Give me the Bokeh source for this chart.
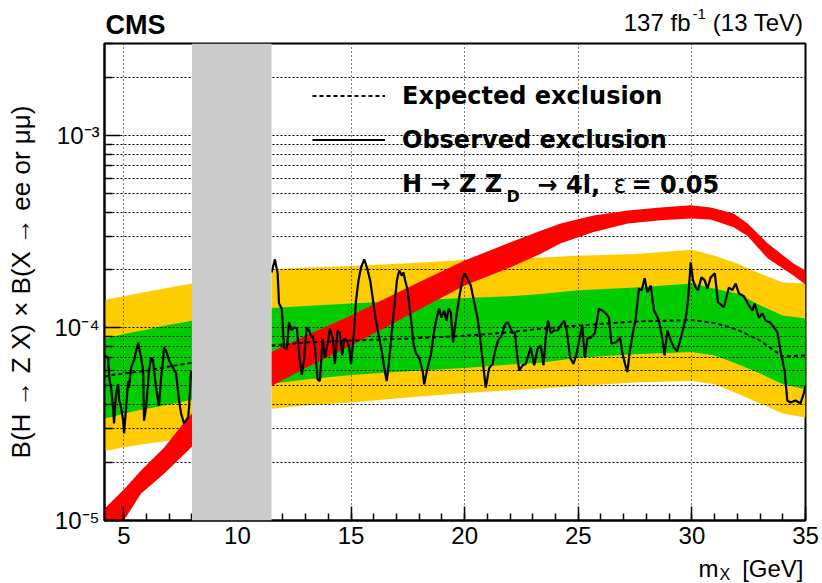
import numpy as np
from bokeh.plotting import figure
from bokeh.layouts import column
from bokeh.models import (Range1d, FixedTicker, Label, Legend, LegendItem,
                          BoxAnnotation, CustomJSTickFormatter)
from bokeh.core.properties import value
from bokeh.embed import file_html
from bokeh.resources import INLINE

FONT = "Liberation Sans"
LEG_FONT = "DejaVu Sans"

# ---------------- data ----------------
x_min, x_max = 4.15, 35.0
y_min, y_max = 1e-5, 3e-3
gap_lo, gap_hi = 8.0, 11.5          # excluded (Upsilon) region

x_major = [5, 10, 15, 20, 25, 30, 35]
x_minor = list(range(5, 36))
y_major = [1e-5, 1e-4, 1e-3]
y_minor = [k * 1e-5 for k in range(2, 10)] + [k * 1e-4 for k in range(2, 10)] + [2e-3, 3e-3]

# expected limit and bands, values in units of 1e-5
band_left_x = [4.15, 4.5, 5.0, 5.5, 6.0, 6.5, 7.0, 7.5, 8.0]
exp_left = [5.6, 5.7, 5.8, 5.9, 6.0, 6.15, 6.3, 6.45, 6.6]
g_lo_left = [3.4, 3.45, 3.6, 3.7, 3.8, 3.9, 4.0, 4.1, 4.25]
g_hi_left = [8.8, 9.0, 9.3, 9.55, 9.8, 10.1, 10.4, 10.65, 10.9]
y_lo_left = [2.3, 2.33, 2.4, 2.45, 2.5, 2.55, 2.6, 2.65, 2.7]
y_hi_left = [14.0, 14.2, 14.6, 15.0, 15.4, 15.8, 16.2, 16.6, 17.0]

band_right_x = [11.5, 13, 15, 17.5, 20, 22, 23.35, 25, 27.5, 30, 31, 32, 33, 34, 35]
exp_right = [8.1, 8.4, 8.6, 8.8, 9.1, 9.5, 9.9, 10.3, 10.8, 11.0, 10.6, 9.8, 8.6, 7.1, 7.2]
g_lo_right = [5.13, 5.4, 5.7, 5.95, 6.2, 6.45, 6.6, 7.0, 7.3, 7.5, 7.2, 6.5, 5.8, 5.1, 4.8]
g_hi_right = [12.7, 13.0, 13.4, 13.9, 14.3, 14.6, 15.0, 15.7, 16.2, 17.0, 16.0, 15.1, 13.1, 11.6, 11.2]
y_lo_right = [3.8, 3.95, 4.1, 4.35, 4.6, 4.75, 4.85, 5.0, 5.2, 5.3, 5.1, 4.57, 4.05, 3.6, 3.43]
y_hi_right = [20.2, 20.6, 21.0, 21.7, 22.5, 23.0, 23.2, 23.7, 24.2, 25.5, 23.7, 21.6, 19.2, 17.2, 17.0]

# theory band H -> Z Z_D -> 4l, eps = 0.05 (units of 1e-5)
th_left_x = [4.15, 5.0, 5.76, 6.77, 7.83, 8.0]
th_left_lo = [0.75, 1.0, 1.38, 1.75, 2.31, 2.42]
th_left_hi = [1.15, 1.45, 1.82, 2.39, 3.43, 3.6]
th_right_x = [11.5, 13, 15, 17.5, 20, 22, 23.35, 24.23, 25.68, 27.18, 28.63, 29.95,
              30.83, 31.84, 32.45, 33.33, 34.47, 35.0]
th_right_lo = [5.0, 6.2, 8.1, 11.6, 16.6, 20.6, 24.3, 27.5, 31.5, 34.9, 36.2, 37.0,
               36.6, 33.3, 30.0, 23.0, 18.7, 16.8]
th_right_hi = [7.5, 9.1, 11.6, 16.2, 22.4, 27.8, 32.0, 34.9, 38.4, 40.7, 42.2, 43.3,
               42.2, 39.3, 34.9, 27.5, 21.6, 19.9]

# observed limit (units of 1e-5)
obs_left_x = [4.15, 4.31, 4.36, 4.44, 4.53, 4.57, 4.66, 4.75, 4.80, 4.88, 4.97, 5.01, 5.10,
              5.19, 5.23, 5.32, 5.45, 5.63, 5.67, 5.76, 5.85, 5.89, 5.98, 6.11, 6.20, 6.29,
              6.33, 6.42, 6.51, 6.55, 6.64, 6.73, 6.77, 6.86, 6.99, 7.17, 7.30, 7.43, 7.52,
              7.65, 7.83, 7.87, 7.96]
obs_left_y = [7.2, 7.0, 5.5, 4.9, 3.86, 3.19, 4.57, 5.1, 4.2, 3.86, 3.3, 2.83, 3.86,
              5.3, 4.9, 6.2, 6.8, 8.4, 7.9, 7.0, 6.0, 3.3, 3.86, 6.0, 7.0, 6.8,
              6.0, 4.9, 4.2, 3.95, 5.5, 6.8, 7.9, 7.6, 6.8, 6.2, 5.8, 4.2, 3.6,
              3.19, 3.43, 3.86, 6.0]
obs_right_x = [11.5, 11.65, 11.77, 11.83, 11.95, 12.05, 12.18, 12.27, 12.39, 12.49, 12.62,
               12.71, 12.83, 12.93, 13.05, 13.15, 13.27, 13.32, 13.41, 13.53, 13.63, 13.75,
               13.85, 13.97, 14.07, 14.19, 14.29, 14.41, 14.51, 14.61, 14.70, 14.82, 14.92,
               15.00, 15.11, 15.22, 15.33, 15.44, 15.58, 15.70, 15.84, 15.95, 16.06, 16.20,
               16.35, 16.46, 16.57, 16.68, 16.80, 16.90, 17.02, 17.12, 17.23, 17.31, 17.38,
               17.49, 17.63, 17.75, 17.85, 18.00, 18.15, 18.22, 18.34, 18.51, 18.66, 18.76,
               18.88, 18.98, 19.10, 19.20, 19.29, 19.39, 19.49, 19.61, 19.76, 19.91, 20.01,
               20.13, 20.27, 20.42, 20.57, 20.67, 20.79, 20.93, 21.08, 21.23, 21.34, 21.47,
               21.62, 21.77, 21.89, 22.00, 22.11, 22.21, 22.30, 22.40, 22.55, 22.69, 22.91,
               23.06, 23.21, 23.35, 23.47, 23.57, 23.67, 23.79, 23.94, 24.09, 24.23, 24.38,
               24.49, 24.64, 24.79, 24.93, 25.08, 25.18, 25.29, 25.40, 25.55, 25.73, 25.91,
               26.06, 26.21, 26.35, 26.46, 26.65, 26.84, 26.94, 27.06, 27.16, 27.26, 27.38,
               27.53, 27.67, 27.79, 27.92, 28.04, 28.19, 28.33, 28.45, 28.55, 28.70, 28.80,
               28.92, 29.07, 29.21, 29.36, 29.54, 29.73, 29.83, 29.95, 30.05, 30.17, 30.27,
               30.42, 30.56, 30.68, 30.83, 31.01, 31.15, 31.41, 31.63, 31.78, 31.93, 32.07,
               32.29, 32.51, 32.66, 32.76, 32.95, 33.10, 33.25, 33.43, 33.61, 33.76, 33.90,
               34.08, 34.20, 34.34, 34.56, 34.78, 34.93, 35.00]
obs_right_y = [19.4, 22.7, 19.2, 13.4, 12.6, 7.9, 7.8, 10.7, 9.7, 10.1, 9.9,
               7.4, 5.7, 6.8, 10.1, 9.7, 8.9, 9.1, 7.9, 5.4, 5.3, 8.8,
               7.0, 8.3, 9.9, 8.9, 6.5, 9.7, 9.4, 7.2, 8.8, 8.6, 7.9,
               6.5, 8.9, 13.9, 17.7, 20.6, 22.7, 20.6, 17.7, 14.4, 11.6, 9.4,
               7.6, 6.2, 5.3, 6.8, 9.7, 12.8, 17.7, 19.9, 18.7, 19.4, 17.7,
               15.7, 11.3, 8.3, 7.4, 7.0, 6.0, 5.1, 6.0, 7.2, 9.7, 11.2,
               12.6, 11.3, 12.3, 10.9, 12.6, 12.0, 8.4, 10.9, 14.4, 18.1, 19.2,
               17.9, 16.6, 13.6, 11.2, 9.1, 6.8, 4.9, 6.2, 6.5, 7.6, 8.6,
               9.1, 10.4, 10.7, 10.1, 9.4, 9.5, 7.4, 6.0, 6.4, 6.5, 7.9,
               6.4, 7.8, 8.1, 6.4, 8.9, 10.9, 9.4, 9.7, 9.7, 10.3, 10.9,
               9.7, 7.0, 6.5, 7.4, 9.1, 10.3, 7.0, 8.8, 8.9, 9.4, 12.6,
               12.3, 11.9, 11.3, 8.3, 8.4, 8.9, 7.4, 6.5, 5.9, 7.4, 9.1,
               11.2, 16.0, 15.7, 18.1, 15.3, 16.6, 12.3, 11.6, 10.9, 8.8, 7.2,
               9.7, 8.6, 7.9, 7.6, 9.1, 11.2, 13.9, 21.9, 17.7, 16.2, 15.7,
               18.3, 17.7, 16.0, 18.3, 19.2, 13.6, 12.8, 16.2, 15.7, 17.0, 15.1,
               14.6, 13.1, 12.3, 13.4, 11.3, 11.9, 10.9, 10.7, 10.1, 9.5, 7.6,
               6.0, 4.2, 4.1, 4.2, 4.05, 4.6, 5.0]

UNIT = 1e-5

def u(v):
    return np.array(v, dtype=float) * UNIT

def join(a, b):
    return np.concatenate([np.asarray(a, float), [np.nan], np.asarray(b, float)])

# page geometry (pixels)
FRAME_L, FRAME_R = 104, 805
BORDER_R = 17
HEADER_H = 41
MAIN_BOTTOM = 34
FOOTER_H = 29

YELLOW = "#FFCC00"
GREEN = "#00CC00"
RED = "#FF0000"

# ---------------- main figure ----------------
p = figure(frame_width=FRAME_R - FRAME_L, frame_height=477, title=None,
           x_range=Range1d(x_min, x_max), y_range=Range1d(y_min, y_max),
           y_axis_type="log", output_backend="svg", toolbar_location=None,
           min_border_left=FRAME_L, min_border_right=BORDER_R, min_border_top=2,
           min_border_bottom=MAIN_BOTTOM, background_fill_color="white",
           border_fill_color="white")

for bx, lo, hi in [(band_left_x, y_lo_left, y_hi_left), (band_right_x, y_lo_right, y_hi_right)]:
    p.varea(x=bx, y1=u(lo), y2=u(hi), fill_color=YELLOW, level="image")
for bx, lo, hi in [(band_left_x, g_lo_left, g_hi_left), (band_right_x, g_lo_right, g_hi_right)]:
    p.varea(x=bx, y1=u(lo), y2=u(hi), fill_color=GREEN, level="image")

for tx, lo, hi in [(th_left_x, th_left_lo, th_left_hi), (th_right_x, th_right_lo, th_right_hi)]:
    p.varea(x=tx, y1=u(lo), y2=u(hi), fill_color=RED)

exp_r = p.line(join(band_left_x, band_right_x), join(u(exp_left), u(exp_right)),
               line_color="black", line_width=2, line_dash="4 3")
obs_r = p.line(join(obs_left_x, obs_right_x), join(u(obs_left_y), u(obs_right_y)),
               line_color="black", line_width=2.2)
th_leg = p.line(x=[], y=[], line_color=RED, line_width=5)

p.add_layout(BoxAnnotation(left=gap_lo, right=gap_hi, fill_color="#CCCCCC",
                           fill_alpha=1.0, line_color=None))

# axes / grid
p.xaxis.ticker = FixedTicker(ticks=x_major, minor_ticks=x_minor)
p.yaxis.ticker = FixedTicker(ticks=y_major, minor_ticks=y_minor)
p.yaxis.formatter = CustomJSTickFormatter(code="""
const e = Math.round(Math.log10(tick));
const sup = {"-5": "\u207b\u2075", "-4": "\u207b\u2074", "-3": "\u207b\u00b3"};
return "10" + (sup[String(e)] || "");
""")

for ax in (p.xaxis[0], p.yaxis[0]):
    ax.axis_line_width = 2
    ax.axis_line_color = "black"
    ax.major_tick_out = 0
    ax.minor_tick_out = 0
    ax.major_tick_line_width = 1.5
    ax.minor_tick_line_width = 1.5
    ax.major_tick_line_color = "black"
    ax.minor_tick_line_color = "black"
    ax.major_label_text_font = FONT
    ax.major_label_text_font_size = "24px"
    ax.major_label_text_color = "black"
p.xaxis.major_tick_in = 14
p.xaxis.minor_tick_in = 7
p.yaxis.major_tick_in = 16
p.yaxis.minor_tick_in = 8
p.xaxis.major_label_standoff = 6
p.yaxis.major_label_standoff = 5

p.yaxis.axis_label = "B(H \u2192 Z X) \u00d7 B(X \u2192 ee or \u03bc\u03bc)"
p.yaxis.axis_label_text_font = FONT
p.yaxis.axis_label_text_font_size = "26px"
p.yaxis.axis_label_text_font_style = "normal"
p.yaxis.axis_label_text_color = "black"
p.yaxis.axis_label_standoff = 15

p.xgrid.grid_line_color = "black"
p.xgrid.grid_line_dash = "1 3"
p.xgrid.grid_line_width = 1
p.ygrid.grid_line_color = "black"
p.ygrid.grid_line_dash = "2 2"
p.ygrid.grid_line_width = 1
p.ygrid.minor_grid_line_color = "black"
p.ygrid.minor_grid_line_dash = "2 2"
p.ygrid.minor_grid_line_width = 1

p.outline_line_color = "black"
p.outline_line_width = 2

# legend
legend = Legend(items=[LegendItem(label="Expected exclusion", renderers=[exp_r]),
                       LegendItem(label="Observed exclusion", renderers=[obs_r]),
                       LegendItem(label="H \u2192 Z Z", renderers=[th_leg])],
                location=(208, 321), orientation="vertical",
                border_line_color=None, background_fill_alpha=0,
                padding=0, margin=0, spacing=13,
                glyph_width=73, glyph_height=31, label_height=31, label_standoff=17,
                label_text_font=LEG_FONT, label_text_font_size="24px",
                label_text_font_style="bold", label_text_baseline="middle",
                label_text_color="black")
p.add_layout(legend)

def lab(text, x, y, size, style="normal"):
    p.add_layout(Label(text=text, x=x, y=y, x_units="screen", y_units="screen",
                       text_font=LEG_FONT, text_font_size=size, text_font_style=style,
                       text_align="left", text_baseline="middle", text_color="black"))

ROW3 = 336
lab("D", 402, ROW3 - 12, "16px", "bold")
lab("\u2192 4l,", 433, ROW3, "24px", "bold")
lab("\u03b5", 509, ROW3, "24px", "normal")
lab("= 0.05", 527, ROW3, "24px", "bold")

# ---------------- text strips above / below the frame ----------------
def text_strip(height):
    f = figure(frame_width=FRAME_R - FRAME_L, frame_height=height,
               x_range=Range1d(FRAME_L, FRAME_R), y_range=Range1d(0, height),
               output_backend="svg", toolbar_location=None,
               min_border_left=FRAME_L, min_border_right=BORDER_R,
               min_border_top=0, min_border_bottom=0,
               x_axis_location=None, y_axis_location=None, title=None,
               background_fill_color="white", border_fill_color="white")
    f.grid.visible = False
    f.outline_line_color = None
    return f

def put(f, text, x, y, size, style="normal", align="left"):
    f.text(x=[x], y=[y], text=[text], text_font=value(FONT), text_font_size=size,
           text_font_style=style, text_align=align, text_baseline="middle",
           text_color="black")

header = text_strip(HEADER_H)
put(header, "CMS", 105, HEADER_H - 24, "27px", "bold")
put(header, "137 fb", 690, HEADER_H - 22, "24px", align="right")
put(header, "-1", 692, HEADER_H - 13, "15px")
put(header, "(13 TeV)", 803, HEADER_H - 22, "24px", align="right")

footer = text_strip(FOOTER_H)
put(footer, "m", 718, 583 - 568, "24px", align="right")
put(footer, "X", 719, 583 - 574, "16px")
put(footer, "[GeV]", 803, 583 - 568, "24px", align="right")

layout = column(header, p, footer, spacing=0)
open("out.html", "w").write(file_html(layout, INLINE))
